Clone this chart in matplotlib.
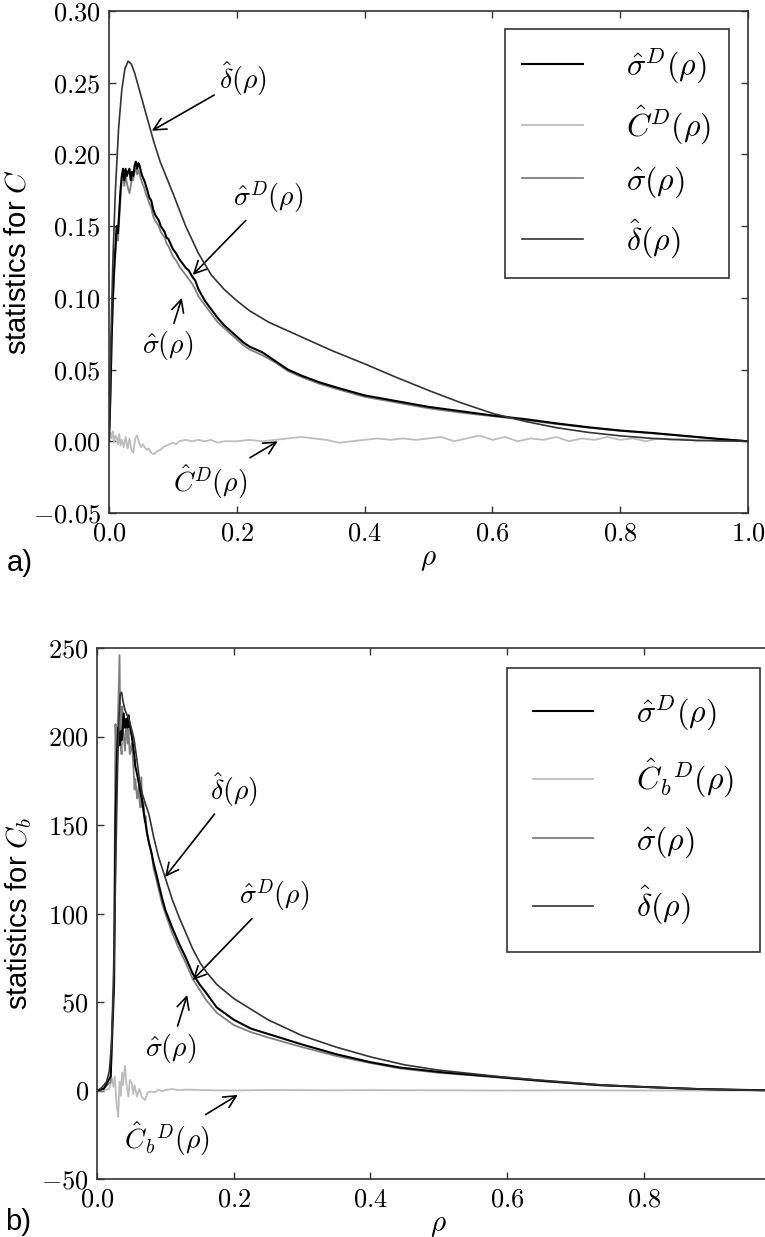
import matplotlib
matplotlib.use("Agg")
import matplotlib.pyplot as plt
from matplotlib.ticker import FuncFormatter

plt.rcParams['mathtext.fontset'] = 'cm'
plt.rcParams['font.family'] = ['Liberation Sans', 'DejaVu Sans']

# ---------------- panel a) data: statistics for C ----------------
rho_a_delta = [0, .003, .006, .01, .015, .02, .025, .03, .035, .04, .05, .06, .07, .08,
               .09, .10, .12, .14, .16, .18, .20, .22, .25, .30, .35, .40, .45, .50, .55,
               .60, .65, .70, .75, .80, .85, .90, .95, 1.0]
delta_a = [0, .07, .125, .175, .218, .245, .26, .265, .263, .257, .241, .225, .209, .195,
           .184, .173, .150, .131, .116, .106, .098, .091, .083, .073, .063, .054, .0445,
           .0355, .027, .0195, .014, .0095, .0062, .0038, .002, .0009, .0003, 0]

rho_a_sig = [0, .002, .004, .006, .008, .010, .012, .014, .016, .018, .020, .022, .024,
             .026, .028, .030, .032, .034, .036, .038, .040, .042, .044, .046, .048, .050,
             .052, .055, .058, .060, .063, .066, .069, .072, .075, .078, .081, .084, .087,
             .090, .093, .096, .10, .105, .11, .115, .12, .125, .13, .135, .14, .15, .16,
             .17, .18, .19, .20, .21, .22, .24, .26, .28, .30, .33, .36, .40, .45, .50, .55,
             .60, .65, .70, .75, .80, .85, .90, .95, 1.0]
sigmaD_a = [0, .03, .07, .10, .12, .135, .15, .145, .16, .175, .185, .19, .182, .19, .185,
            .188, .19, .182, .188, .185, .192, .195, .19, .194, .192, .188, .185, .182, .178,
            .175, .170, .168, .162, .158, .156, .154, .150, .148, .146, .142, .141, .138,
            .134, .131, .127, .124, .121, .119, .115, .112, .106, .098, .092, .086, .081,
            .077, .073, .069, .066, .062, .056, .050, .046, .041, .037, .032, .028, .024,
            .021, .018, .0155, .0125, .0098, .0075, .0058, .0038, .0018, 0]
sigma_a = [0, .025, .065, .095, .115, .13, .145, .14, .155, .17, .182, .186, .178, .185,
           .18, .176, .173, .178, .184, .182, .188, .19, .186, .189, .186, .183, .180, .177,
           .172, .170, .166, .163, .157, .154, .152, .150, .146, .144, .142, .138, .136,
           .133, .129, .126, .122, .119, .116, .113, .110, .106, .101, .095, .089, .083,
           .079, .075, .071, .067, .064, .060, .055, .049, .045, .040, .036, .031, .027,
           .023, .020, .0175, .015, .012, .0095, .0073, .0056, .0037, .0017, 0]

rho_a_cd = [0, .002, .004, .006, .008, .010, .012, .014, .016, .018, .020, .023, .026,
            .029, .032, .035, .038, .041, .044, .047, .050, .053, .056, .059, .062, .066,
            .070, .075, .080, .085, .090, .095, .10, .105, .11, .12, .13, .14, .15, .16,
            .17, .18, .19, .20, .22, .24, .26, .28, .30, .32, .34, .36, .38, .40, .42, .44,
            .46, .48, .50, .52, .54, .56, .58, .60, .62, .64, .66, .68, .70, .72, .74, .76,
            .78, .80, .82, .84, .86, .88, .90, .92, .94, .96, .98, 1.0]
CD_a = [0, .006, .002, .007, -.001, .004, .003, -.002, .005, -.003, .001, -.004, .003,
        -.005, .002, -.006, -.008, .002, .004, -.001, -.004, -.002, -.004, -.006, -.005,
        -.008, -.009, -.007, -.006, -.004, -.003, -.002, -.001, -.002, .000, .001, .000,
        .001, .000, .001, -.001, .000, .000, .000, .001, .000, .001, .002, .003, .002, .001,
        -.001, .000, .001, .002, .001, .002, .001, .002, .003, .000, .002, .004, .001,
        .003, .000, .002, .001, .003, .000, .002, .001, .003, .001, .002, .000, .002,
        .001, .002, .000, .001, .000, .001, 0]

# ---------------- panel b) data: statistics for C_b ----------------
rho_b_delta = [0, .005, .01, .014, .018, .021, .024, .026, .028, .030, .032, .034, .036,
               .038, .041, .044, .046, .050, .054, .058, .062, .066, .070, .076, .083,
               .090, .10, .11, .12, .13, .14, .151, .16, .175, .20, .225, .25, .30, .35,
               .40, .45, .50, .59, .65, .74, .80, .88, .94, 1.0]
delta_b = [0, 1, 3, 5, 11, 25, 55, 95, 140, 180, 210, 224, 225, 220, 215, 212, 211, 205,
           199, 188, 176, 168, 163, 156, 143, 132, 120, 108, 98, 89, 80, 72, 67, 60, 52,
           46, 40, 31, 24.5, 19, 14.5, 11.5, 7.8, 5.8, 3.1, 2.0, 0.8, 0.3, 0]

rho_b_sig = [0, .01, .02, .025, .027, .029, .031, .033, .034, .035, .036, .037, .039,
             .041, .043, .045, .046, .048, .051, .053, .055, .056, .058, .059, .061, .063,
             .065, .066, .068, .070, .071, .073, .076, .080, .083, .087, .090, .095, .10,
             .11, .12, .13, .14, .15, .16, .175, .20, .225, .25, .30, .35, .40, .443, .50,
             .59, .65, .736, .80, .882, .95, 1.0]
sigmaD_b = [0, 1, 8, 60, 150, 187, 205, 195, 200, 203, 198, 201, 213, 205, 210, 205, 212,
            206, 200, 194, 188, 183, 180, 178, 174, 170, 166, 164, 158, 153, 151, 146,
            140, 134, 128, 122, 117, 109, 102, 92, 83, 75, 66, 60, 55, 47, 40, 35, 32, 26,
            20.5, 16, 13, 10.5, 7.5, 5.5, 3.0, 2.0, 0.8, 0.3, 0]
sigma_b = [0, 1, 5, 80, 207, 185, 215, 246, 205, 195, 190, 217, 200, 192, 210, 196, 204,
           190, 196, 185, 170, 176, 168, 165, 172, 160, 177, 160, 163, 152, 155, 145,
           140, 133, 125, 119, 114, 106, 100, 89, 80, 72, 63, 57, 51, 44, 37, 33, 30,
           24.5, 19.5, 15.5, 12.5, 10, 7.3, 5.3, 3.0, 2.0, 0.8, 0.3, 0]

rho_b_cd = [0, .01, .018, .022, .024, .026, .028, .029, .031, .033, .035, .0366, .038,
            .041, .043, .046, .048, .051, .053, .055, .0585, .062, .066, .0707, .074, .078,
            .085, .09, .095, .10, .11, .12, .13, .15, .17, .20, .25, .30, .35, .40, .50,
            .60, .70, .80, .90, 1.0]
CbD_b = [0, 0, 1, 7, 2, 8, -4, -9, -15, 5, -3, 10, 3, 14, 4, -3.5, 6, 4, -2, 3, -3.5, 1,
         -4, -5.4, -1, -0.6, -1, 0.5, -0.5, 0.3, 0.8, 0.2, 0.5, 0.3, 0.1, 0, 0.3, 0.2,
         0.1, 0.2, 0.1, 0, 0.1, 0, 0, 0]

# ---------------- drawing ----------------
c_sigD, c_cd, c_sig, c_delta = '#000000', '#bdbdbd', '#7f7f7f', '#333333'
tick_fs, ann_fs, leg_fs, lab_fs = 19, 20, 23, 21

fig = plt.figure(figsize=(7.65, 12.37), dpi=100)
ax_a = fig.add_axes([109 / 765, 1 - 513 / 1237, 639 / 765, 502 / 1237])
ax_b = fig.add_axes([97 / 765, 1 - 1179 / 1237, 683.5 / 765, 531 / 1237])


def style_axes(ax, fmt):
    for sp in ax.spines.values():
        sp.set_linewidth(1.2)
        sp.set_color('#333333')
    ax.tick_params(direction='in', top=True, right=True, length=5, width=1,
                   color='#333333', labelsize=tick_fs, pad=6)
    ax.xaxis.set_major_formatter(FuncFormatter(lambda v, p: r'$%.1f$' % v))
    ax.yaxis.set_major_formatter(FuncFormatter(fmt))
    ax.set_xlim(0, 1)
    ax.set_xticks([0, .2, .4, .6, .8, 1.0])
    ax.set_xlabel(r'$\rho$', fontsize=lab_fs, labelpad=0)


arrow = dict(arrowstyle='->', color='k', lw=1.2, mutation_scale=22, shrinkB=0)

# panel a
ax_a.plot(rho_a_sig, sigmaD_a, color=c_sigD, lw=1.5, label=r'$\hat{\sigma}^D(\rho)$', zorder=4)
ax_a.plot(rho_a_cd, CD_a, color=c_cd, lw=1.3, label=r'$\hat{C}^D(\rho)$', zorder=2)
ax_a.plot(rho_a_sig, sigma_a, color=c_sig, lw=1.3, label=r'$\hat{\sigma}(\rho)$', zorder=3)
ax_a.plot(rho_a_delta, delta_a, color=c_delta, lw=1.2, label=r'$\hat{\delta}(\rho)$', zorder=5)
style_axes(ax_a, lambda v, p: r'$%.2f$' % v)
ax_a.set_ylim(-0.05, 0.30)
ax_a.set_yticks([-.05, 0, .05, .10, .15, .20, .25, .30])
ax_a.set_ylabel(r'statistics for $C$', fontsize=lab_fs)
ax_a.yaxis.set_label_coords(-0.122, 0.5)

ax_a.annotate(r'$\hat{\delta}(\rho)$', xy=(0.067, 0.2165), xytext=(0.21, 0.253),
              fontsize=ann_fs, ha='center', va='center', arrowprops=arrow)
ax_a.annotate(r'$\hat{\sigma}^D(\rho)$', xy=(0.131, 0.116), xytext=(0.249, 0.170),
              fontsize=ann_fs, ha='center', va='center', arrowprops=arrow)
ax_a.annotate(r'$\hat{\sigma}(\rho)$', xy=(0.114, 0.100), xytext=(0.091, 0.067),
              fontsize=ann_fs, ha='center', va='center', arrowprops=arrow)
ax_a.annotate(r'$\hat{C}^D(\rho)$', xy=(0.264, 0.0), xytext=(0.158, -0.028),
              fontsize=ann_fs, ha='center', va='center', arrowprops=arrow)

leg_kw = dict(fontsize=leg_fs, loc='upper right', borderaxespad=0, fancybox=False,
              framealpha=1, edgecolor='#333333', handlelength=1.9, handletextpad=1.35)
lg = ax_a.legend(bbox_to_anchor=(0.970, 0.964), borderpad=0.55, labelspacing=0.55, **leg_kw)
lg.get_frame().set_linewidth(1.2)

# panel b
ax_b.plot(rho_b_sig, sigmaD_b, color=c_sigD, lw=1.5, label=r'$\hat{\sigma}^D(\rho)$', zorder=4)
ax_b.plot(rho_b_cd, CbD_b, color=c_cd, lw=1.3, label=r'${\hat{C}_b}^D(\rho)$', zorder=2)
ax_b.plot(rho_b_sig, sigma_b, color=c_sig, lw=1.3, label=r'$\hat{\sigma}(\rho)$', zorder=3)
ax_b.plot(rho_b_delta, delta_b, color=c_delta, lw=1.2, label=r'$\hat{\delta}(\rho)$', zorder=5)
style_axes(ax_b, lambda v, p: r'$%d$' % v)
ax_b.set_ylim(-50, 250)
ax_b.set_yticks([-50, 0, 50, 100, 150, 200, 250])
ax_b.set_ylabel(r'statistics for $C_b$', fontsize=lab_fs)
ax_b.yaxis.set_label_coords(-0.092, 0.5)

ax_b.annotate(r'$\hat{\delta}(\rho)$', xy=(0.0995, 120.6), xytext=(0.20, 170),
              fontsize=ann_fs, ha='center', va='center', arrowprops=arrow)
ax_b.annotate(r'$\hat{\sigma}^D(\rho)$', xy=(0.140, 62.4), xytext=(0.259, 110),
              fontsize=ann_fs, ha='center', va='center', arrowprops=arrow)
ax_b.annotate(r'$\hat{\sigma}(\rho)$', xy=(0.132, 54), xytext=(0.108, 24),
              fontsize=ann_fs, ha='center', va='center', arrowprops=arrow)
ax_b.annotate(r'${\hat{C}_b}^D(\rho)$', xy=(0.206, -2.5), xytext=(0.102, -27),
              fontsize=ann_fs, ha='center', va='center', arrowprops=arrow)

lg = ax_b.legend(bbox_to_anchor=(0.970, 0.962), borderpad=0.8, labelspacing=0.75, **leg_kw)
lg.get_frame().set_linewidth(1.2)

fig.text(20 / 765, 1 - 563 / 1237, 'a)', fontsize=21, ha='center', va='center')
fig.text(18 / 765, 1 - 1222 / 1237, 'b)', fontsize=21, ha='center', va='center')

fig.savefig('out.png', dpi=100)
